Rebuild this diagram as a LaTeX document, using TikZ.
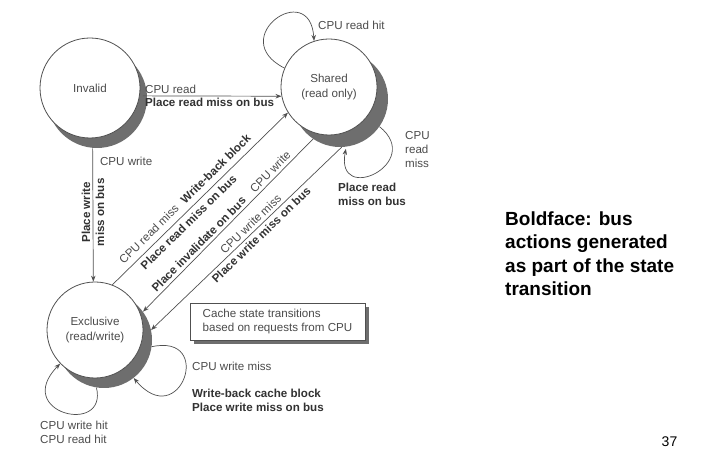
\documentclass[tikz,border=0pt]{standalone}
\usepackage{fontspec}
\setmainfont{Liberation Sans}
\usetikzlibrary{arrows.meta,calc}
\definecolor{txt}{RGB}{75,75,75}
\definecolor{btxt}{RGB}{50,50,50}
\definecolor{ln}{RGB}{80,80,80}
\definecolor{shd}{RGB}{110,110,110}
\begin{document}
\begin{tikzpicture}[x=1pt,y=1pt,
  stnode/.style={circle,draw=ln,line width=0.8pt,fill=white,minimum size=#1,inner sep=0pt,align=center,text=txt,font=\fontsize{11.6}{15}\selectfont},
  shadowc/.style={circle,fill=shd,minimum size=#1,inner sep=0pt},
  arr/.style={draw=ln,line width=0.7pt,-{Stealth[length=6pt,width=4.5pt]}},
  lbl/.style={text=txt,font=\fontsize{11.6}{14}\selectfont,inner sep=2pt,align=left},
  blbl/.style={text=btxt,font=\fontsize{11.6}{14}\selectfont\bfseries,inner sep=2pt,align=left},
  cbox/.style={draw=ln,line width=0.7pt,fill=white,minimum width=175pt,minimum height=37pt,align=left,text=txt,font=\fontsize{11.6}{14}\selectfont},
]
\useasboundingbox (0,0) rectangle (701,468);

% states with shadows
\node[shadowc=100] (invS) at (97,370) {};
\node[stnode=100] (inv) at (90,380) {Invalid};
\node[shadowc=96] (shS) at (340,369) {};
\node[stnode=96] (sh) at (329,381) {Shared\\(read only)};
\node[shadowc=96] (exS) at (104,128) {};
\node[stnode=96] (ex) at (95,138) {Exclusive\\(read/write)};

% Invalid -> Shared
\draw[arr] ([xshift=3pt]inv.-9) --
  node[lbl,pos=0,anchor=south west]{CPU read}
  node[blbl,pos=0,anchor=north west]{Place read miss on bus} (sh.191);

% Invalid -> Exclusive
\draw[arr] ([yshift=-10pt]inv.-87) --
  node[lbl,pos=0.1,anchor=west,xshift=5pt]{CPU write}
  node[blbl,rotate=90,pos=0.48,align=center]{Place write\\miss on bus} (ex.92);

% Exclusive -> Shared
\draw[arr] (ex.69) --
  node[lbl,sloped,above=4pt,pos=0.25]{CPU read miss}
  node[blbl,sloped,above=4pt,pos=0.63]{Write-back block}
  node[blbl,sloped,below=2pt,pos=0.40]{Place read miss on bus} (sh.212);

% Shared -> Exclusive (CPU write)
\draw[arr] (shS.236) --
  node[lbl,sloped,above=1pt,pos=0.22]{CPU write}
  node[blbl,sloped,above=1pt,pos=0.64]{Place invalidate on bus} (exS.36);

% Shared -> Exclusive (CPU write miss)
\draw[arr] (shS.-88) --
  node[lbl,sloped,above=1pt,pos=0.45]{CPU write miss}
  node[blbl,sloped,below=1pt,pos=0.45]{Place write miss on bus} (exS.12);

% Shared self loops
\draw[arr] (sh.157) .. controls (225,430) and (310,490) .. (sh.108);
\node[lbl,anchor=west] (rhit) at (316,443) {CPU read hit};

\draw[arr] (shS.-35) .. controls (425,305) and (335,262) .. ([yshift=-2pt]shS.-83);
\node[lbl,anchor=west] (rmiss) at (403,318) {CPU\\read\\miss};
\node[blbl,anchor=west] (prm) at (336,274) {Place read\\miss on bus};

% Exclusive self loops
\draw[arr] (exS.261) .. controls (108,32) and (12,55) .. (ex.224);
\node[lbl,anchor=west] (whit) at (38,36) {CPU write hit\\CPU read hit};

\draw[arr] (exS.-8) .. controls (215,135) and (180,35) .. (exS.-52);
\node[lbl,anchor=west] (wmiss) at (190,102) {CPU write miss};
\node[blbl,anchor=west] (wbc) at (190,67.5) {Write-back cache block\\Place write miss on bus};

% legend box
\fill[shd] (194,124) rectangle (369,161);
\node[cbox] (box) at (277.5,146.5) {Cache state transitions\\based on requests from CPU};

% side text
\node[anchor=north west,inner sep=0pt,align=left,font=\fontsize{19}{23.5}\selectfont\bfseries,text=black] (bf) at (505,256.6)
  {Boldface: bus\\actions generated\\as part of the state\\transition};

\node[font=\fontsize{14}{16}\selectfont,text=black,inner sep=0pt] (pg) at (669.5,26) {37};
\end{tikzpicture}
\end{document}
